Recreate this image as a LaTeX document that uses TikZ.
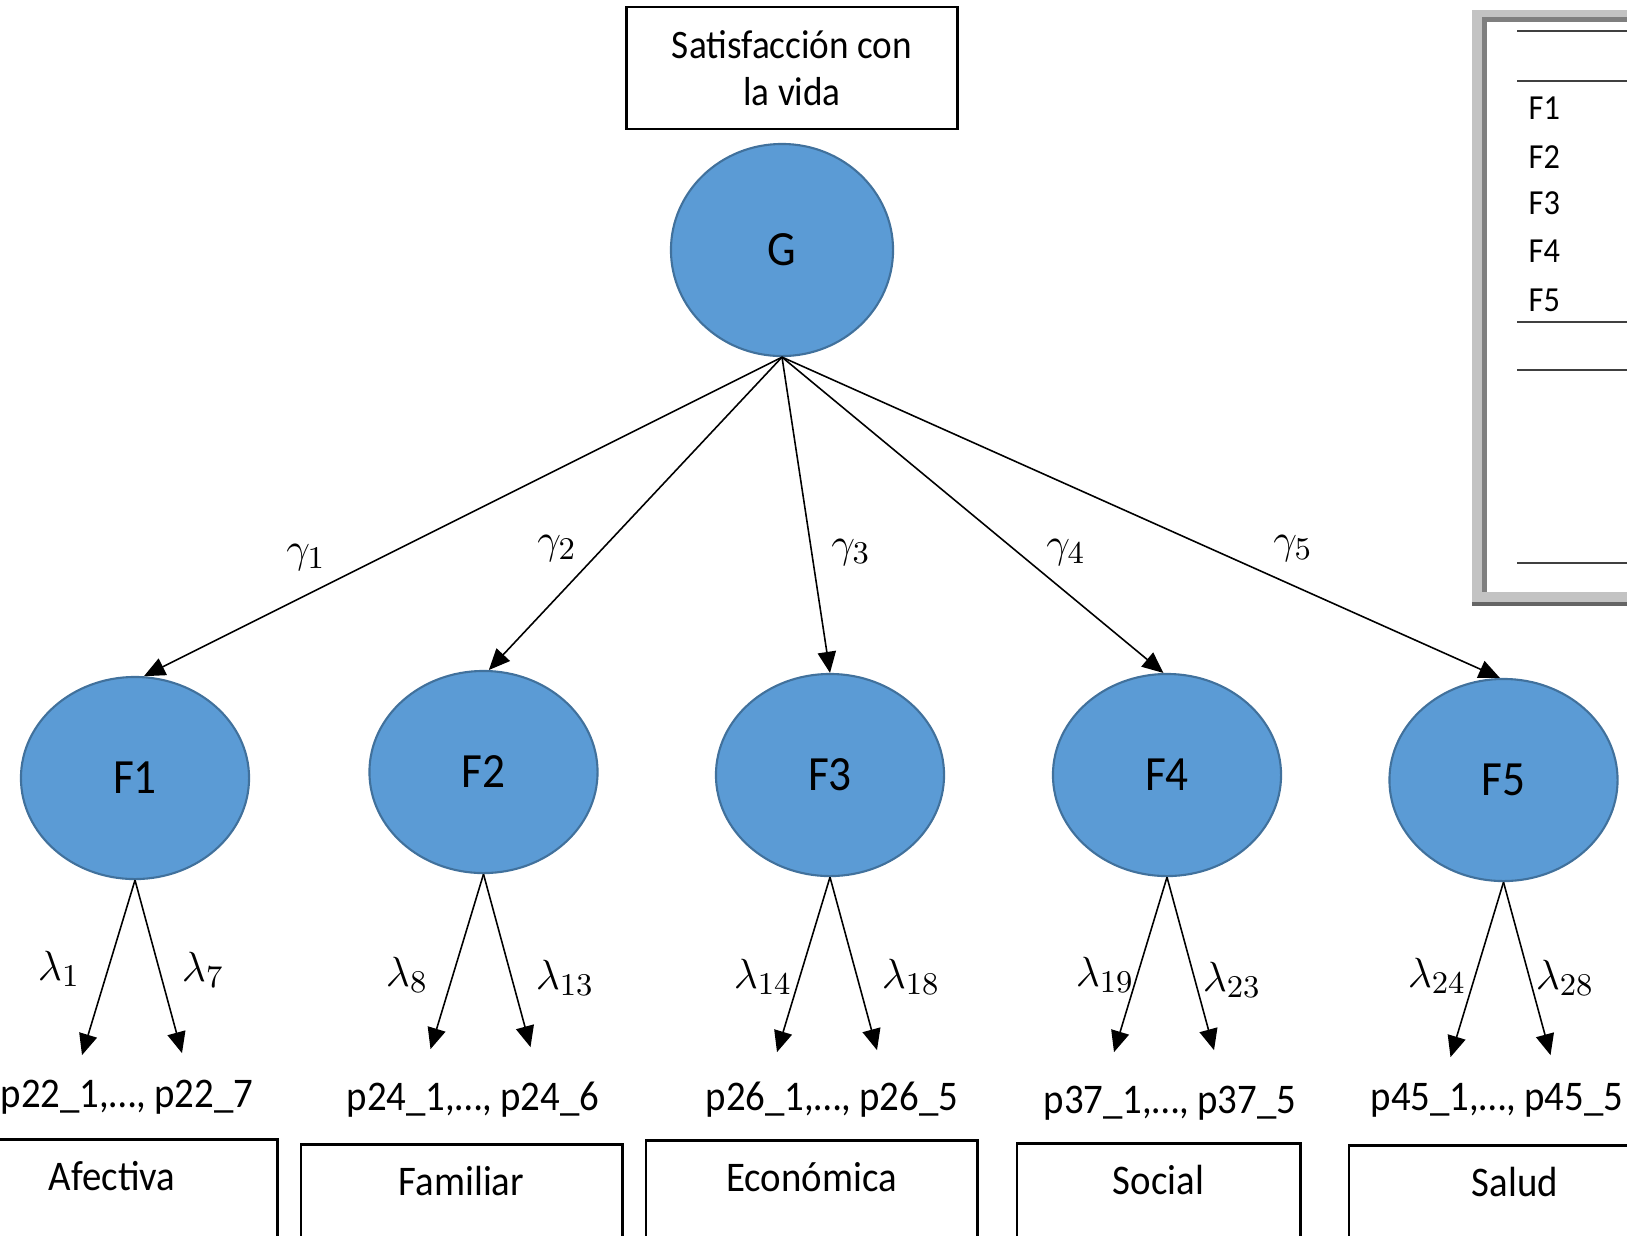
\documentclass[tikz,border=0pt]{standalone}
\usepackage[no-math]{fontspec}
\setmainfont{Carlito}[FakeStretch=0.92]
\usetikzlibrary{arrows.meta,shapes.geometric}
\definecolor{factorfill}{HTML}{5B9BD5}
\definecolor{factorline}{HTML}{41719C}
\definecolor{framelight}{HTML}{C3C3C3}
\definecolor{framedark}{HTML}{7F7F7F}

\begin{document}
\begin{tikzpicture}[x=0.01cm,y=-0.01cm,
		every node/.style={inner sep=0pt},
		factor/.style={ellipse,draw=factorline,fill=factorfill,line width=0.6pt,minimum width=2.28cm,minimum height=2.02cm,font=\fontsize{14}{16}\selectfont},
		namebox/.style={draw=black,line width=0.8pt,minimum width=3.31cm,minimum height=1.22cm,align=center,font=\fontsize{11.5}{13.4}\selectfont},
		catbox/.style={draw=black,line width=0.8pt,anchor=north,minimum height=1.5cm},
		cattext/.style={font=\fontsize{12}{14}\selectfont},
		items/.style={font=\fontsize{12}{14}\selectfont},
		coef/.style={font=\fontsize{13}{15}\selectfont},
		load/.style={-{Triangle[length=6pt,width=5.2pt]},line width=0.45pt},
		rowtext/.style={anchor=west,font=\fontsize{10}{12}\selectfont}]
		\useasboundingbox (0,0) rectangle (1627,1235);
		\clip (0,0) rectangle (1627,1235);
		\node[namebox] (title) at (792,68) {Satisfacción con\\la vida};
		\node[factor,minimum width=2.22cm,minimum height=2.12cm] (G) at (782,250) {G};
		\node[factor] (F1) at (135,778) {F1};
		\node[factor] (F2) at (483.5,772) {F2};
		\node[factor] (F3) at (830,775) {F3};
		\node[factor] (F4) at (1167,775) {F4};
		\node[factor] (F5) at (1503.5,780) {F5};
		\foreach \f/\a/\lx/\ly/\i in {F1/85/306/557/1,F2/87/557/548/2,F3/90/851/552/3,F4/92/1066/552/4,F5/92/1293/548/5}{
			\draw[load] (G.south) -- (\f.\a);
			\node[coef] (g\i) at (\lx,\ly) {$\gamma_\i$};
		}
		\foreach \f in {F1,F2,F3,F4,F5}{
			\coordinate (l\f) at ([shift={(-53,175)}]\f.south);
			\coordinate (r\f) at ([shift={(47,173)}]\f.south);
			\draw[load] (\f.south) -- (l\f);
			\draw[load] (\f.south) -- (r\f);
		}
		\foreach \i/\lx/\ly in {1/59/969,7/203/970,8/407/975,13/565/978,14/763/977,18/911/977,19/1105/975,23/1232/980,24/1437/976,28/1565/978}
			\node[coef] (lam\i) at (\lx,\ly) {$\lambda_{\i}$};
		\node[items] (p22) at (127,1097) {p22\_1,…, p22\_7};
		\node[items] (p24) at (473,1100) {p24\_1,…, p24\_6};
		\node[items] (p26) at (832,1100) {p26\_1,…, p26\_5};
		\node[items] (p37) at (1170,1103) {p37\_1,…, p37\_5};
		\node[items] (p45) at (1497,1100) {p45\_1,…, p45\_5};
		\foreach \n/\cx/\t/\w/\txt in {afe/112/1138/3.30cm/Afectiva,fam/461.5/1143/3.21cm/Familiar,eco/811.5/1139/3.31cm/Económica,soc/1158.5/1142/2.83cm/Social,sal/1515/1144/3.32cm/Salud}{
			\node[catbox,minimum width=\w] (\n) at (\cx,\t) {};
			\node[cattext] (t\n) at ([yshift=-0.38cm]\n.north) {\txt};
		}
		\fill[framelight] (1472,10) rectangle (1640,604);
		\fill[framedark] (1482,17) rectangle (1640,592);
		\fill[white] (1487,22) rectangle (1640,592);
		\fill[framedark!80!black] (1472,602) rectangle (1640,606);
		\foreach \y in {31,81,322,370,563}
			\draw[line width=0.7pt,black!75] (1517,\y) -- (1640,\y);
		\foreach \i/\y in {1/108,2/157,3/203,4/251,5/300}
			\node[rowtext] (row\i) at (1528,\y) {F\i};
\end{tikzpicture}
\end{document}
